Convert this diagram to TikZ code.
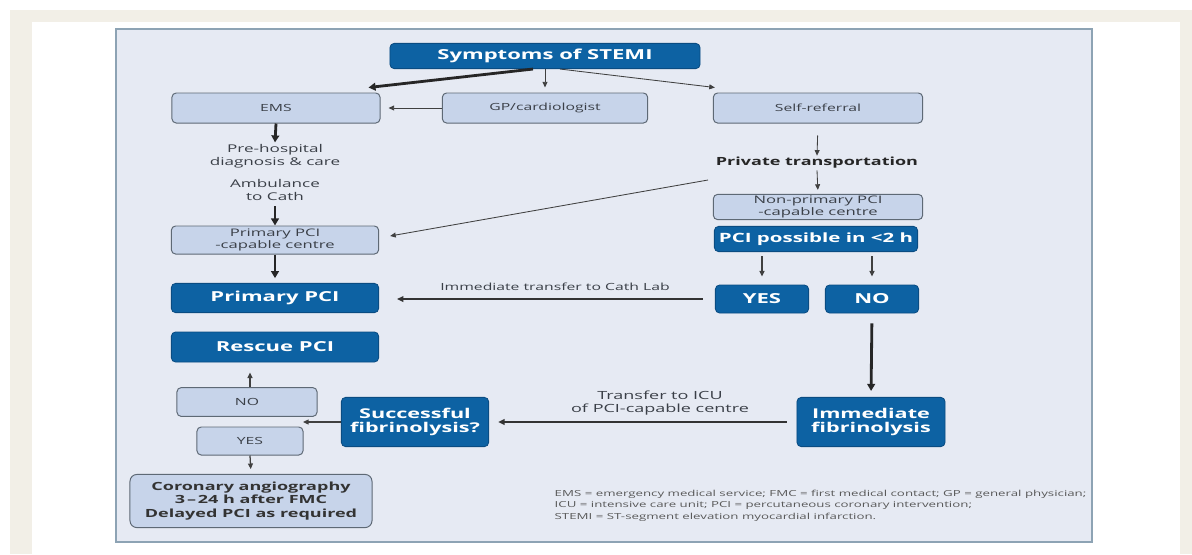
\documentclass[tikz,border=0pt]{standalone}
\usepackage{fontspec}
\setmainfont{Open Sans}[FakeStretch=1.6]
\usetikzlibrary{positioning,calc,arrows.meta}
\definecolor{panelfill}{HTML}{E6EAF3}
\definecolor{panelline}{HTML}{8DA3B4}
\definecolor{darkfill}{HTML}{0D62A3}
\definecolor{darkline}{HTML}{0A4C82}
\definecolor{lightfill}{HTML}{C7D4EA}
\definecolor{lightline}{HTML}{5E6975}
\definecolor{textgrey}{HTML}{3A3F47}
\definecolor{creamband}{HTML}{F2EFE7}
\tikzset{%
  dbox/.style={%
    draw=darkline,
    fill=darkfill,
    line width=0.6pt,
    rounded corners=3pt,
    text=white,
    inner sep=0pt,
    align=center,
    font=\fontsize{9.8}{11}\selectfont\bfseries%
  },
  lbox/.style={%
    draw=lightline,
    fill=lightfill,
    line width=0.7pt,
    rounded corners=3pt,
    text=textgrey,
    inner sep=0pt,
    align=center,
    font=\fontsize{7}{8.6}\selectfont%
  },
  plain/.style={%
    text=textgrey,
    inner sep=1pt,
    align=center,
    font=\fontsize{7.6}{9.3}\selectfont%
  },
  thickarrow/.style={%
    line width=2pt,
    draw=black!85,
    -{Triangle[length=5pt,width=5.5pt]}%
  },
  midarrow/.style={%
    line width=1.1pt,
    draw=black!80,
    -{Triangle[length=4.5pt,width=4pt]}%
  },
  thinarrow/.style={%
    line width=0.6pt,
    draw=black!75,
    -{Triangle[length=4pt,width=3.5pt]}%
  }
}

\begin{document}
\begin{tikzpicture}[x=0.025cm,y=-0.025cm]
      \useasboundingbox (0,0) rectangle (1192,554);
      % frame and panel
      \fill[white] (0,0) rectangle (1192,554);
      \fill[creamband] (10,10) rectangle (1192,554);
      \fill[white] (32,22) rectangle (1180,554);
      \draw[panelline, fill=panelfill, line width=0.8pt] (116,29) rectangle (1092,542);

      % top row
      \node[dbox, minimum width=7.75cm, minimum height=0.63cm] (symptoms) at (545,56) {Symptoms of STEMI};
      \node[lbox, minimum width=5.2cm, minimum height=0.75cm]  (ems)      at (276,108) {EMS};
      \node[lbox, minimum width=5.13cm, minimum height=0.75cm] (gp)       at (545,108) {GP/cardiologist};
      \node[lbox, minimum width=5.23cm, minimum height=0.75cm] (selfref)  at (818,108) {Self-referral};

      % left column
      \node[plain] (prehosp)   at (275,156) {Pre-hospital\\diagnosis \& care};
      \node[plain] (ambulance) at (275,190) {Ambulance\\to Cath};
      \node[lbox, minimum width=5.18cm, minimum height=0.7cm, font=\fontsize{7.4}{8.6}\selectfont] (primcap) at (275,240) {Primary PCI\\-capable centre};
      \node[dbox, minimum width=5.18cm, minimum height=0.73cm] (primpci) at (275,298) {Primary PCI};
      \node[dbox, minimum width=5.18cm, minimum height=0.75cm] (rescue)  at (275,347) {Rescue PCI};
      \node[lbox, minimum width=3.5cm, minimum height=0.72cm]  (nolight)  at (247,402) {NO};
      \node[lbox, minimum width=2.65cm, minimum height=0.7cm]  (yeslight) at (250,441) {YES};
      \node[lbox, minimum width=6.05cm, minimum height=1.33cm, rounded corners=5pt,
            text=black!80, font=\fontsize{8}{9.4}\selectfont\bfseries] (coronary) at (251,501)
            {Coronary angiography\\3\,–\,24 h after FMC\\Delayed PCI as required};
      \node[dbox, minimum width=3.68cm, minimum height=1.23cm, font=\fontsize{9.6}{10.2}\selectfont\bfseries]
            (success) at (415,422) {Successful\\fibrinolysis?};
      \coordinate (split) at (303,422);

      % right column
      \node[plain, font=\fontsize{8}{9}\selectfont\bfseries, text=black!85] (private) at (817,163) {Private transportation};
      \coordinate (diagstart) at (708,180);
      \node[lbox, minimum width=5.23cm, minimum height=0.63cm, font=\fontsize{7.4}{8.6}\selectfont] (nonprim) at (818,207) {Non-primary PCI\\-capable centre};
      \node[dbox, minimum width=5.08cm, minimum height=0.63cm, font=\fontsize{9.1}{11}\selectfont\bfseries] (pcipos)  at (816,239) {PCI possible in <2 h};
      \node[dbox, minimum width=2.33cm, minimum height=0.7cm] (yes) at (762,299) {YES};
      \node[dbox, minimum width=2.33cm, minimum height=0.7cm] (no)  at (872,299) {NO};
      \node[dbox, minimum width=3.7cm, minimum height=1.23cm, font=\fontsize{9.6}{10.2}\selectfont\bfseries]
            (immfib) at (871,422) {Immediate\\fibrinolysis};

      % labels
      \node[plain, font=\fontsize{7}{9}\selectfont] (cathlabel) at (555,287) {Immediate transfer to Cath Lab};
      \node[plain, font=\fontsize{8}{8.8}\selectfont] (iculabel)  at (660,403) {Transfer to ICU\\of PCI-capable centre};
      \node[plain, anchor=north west, align=left, text=black!65, font=\fontsize{5.9}{8.5}\selectfont] (legend) at (553,488)
            {EMS = emergency medical service; FMC = first medical contact; GP = general physician;\\
             ICU = intensive care unit; PCI = percutaneous coronary intervention;\\
             STEMI = ST-segment elevation myocardial infarction.};

      % connectors
      \draw[thickarrow] ($(symptoms.south)+(-12,0)$) -- ($(ems.north east)+(-12,-5)$);
      \draw[thinarrow]  (symptoms.south) -- ($(gp.north)+(0,-5)$);
      \draw[thinarrow]  ($(symptoms.south)+(15,0)$) -- ($(selfref.north west)+(2,-5)$);
      \draw[thinarrow, shorten >=0.2cm] (gp.west) -- (ems.east);
      \draw[thickarrow] (ems.south) -- (prehosp.north);
      \draw[thickarrow, shorten <=0.1cm] (ambulance.south) -- (primcap.north);
      \draw[thickarrow, shorten >=0.12cm] (primcap.south) -- (primpci.north);
      \draw[thinarrow, shorten <=0.3cm] (selfref.south) -- (private.north);
      \draw[thinarrow, shorten >=0.1cm] (private.south) -- (nonprim.north);
      \draw[thinarrow] (diagstart) -- ($(primcap.east)+(11,-4)$);
      \draw[thinarrow, line width=0.9pt, shorten <=0.1cm, shorten >=0.2cm] (pcipos.south -| yes.north) -- (yes.north);
      \draw[thinarrow, line width=0.9pt, shorten <=0.1cm, shorten >=0.2cm] (pcipos.south -| no.north) -- (no.north);
      \draw[midarrow, shorten <=0.3cm, shorten >=0.45cm] (yes.west) -- (yes.west -| primpci.east);
      \draw[thickarrow, shorten <=0.25cm, shorten >=0.15cm] (no.south) -- (immfib.north);
      \draw[midarrow, shorten <=0.25cm, shorten >=0.23cm] (immfib.west) -- (immfib.west -| success.east);
      \draw[thinarrow, line width=0.9pt] (success.west) -- (split);
      \draw[thinarrow, line width=0.9pt, shorten >=0.25cm] (yeslight.north |- nolight.north) -- (yeslight.north |- rescue.south);
      \draw[thinarrow, line width=0.9pt, shorten >=0.12cm] (yeslight.south) -- (coronary.north);
\end{tikzpicture}
\end{document}
